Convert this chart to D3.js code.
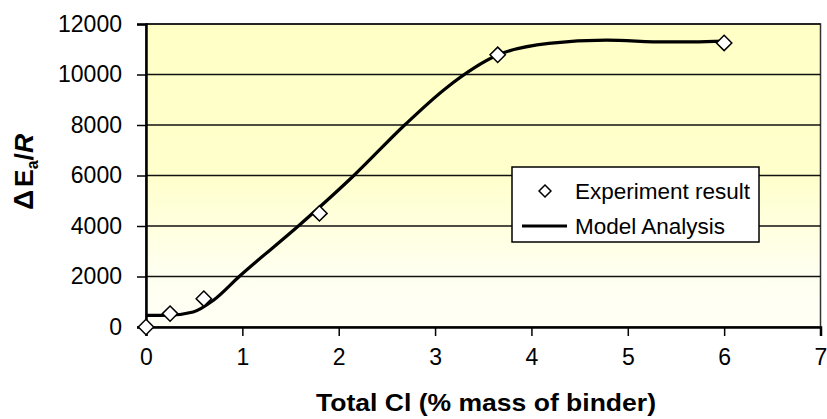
<!DOCTYPE html>
<html lang="en">
<head>
	<meta charset="UTF-8">
	<title>Activation energy vs total Cl</title>
	<script src="https://cdn.jsdelivr.net/npm/d3@7"></script>
	<style>
		html,body{margin:0;padding:0;background:#fff;}
		svg{display:block;font-family:"Liberation Sans",Arial,sans-serif;}
	</style>
</head>
<body>
	<div id="main"></div>
	<script>
		// experiment points
		var expX = [0, 0.25, 0.6, 1.8, 3.65, 6];
		var expY = [0, 530, 1120, 4500, 10780, 11250];
		// model curve
		var modelX = [0, 0.23, 0.49, 0.70, 0.97, 1.59, 2.16, 2.69, 3.11, 3.65, 4.18, 4.78, 5.39, 5.68, 6.0];
		var modelY = [460, 465, 595, 1060, 2010, 4030, 6010, 8020, 9450, 10770, 11230, 11360, 11290, 11290, 11320];
		var xTicks = [0, 1, 2, 3, 4, 5, 6, 7];
		var yTicks = [0, 2000, 4000, 6000, 8000, 10000, 12000];
		var legendLabels = ["Experiment result", "Model Analysis"];

		var W = 827, H = 419;
		var m = {left: 146, right: 6.5, top: 24, bottom: 92};
		var w = W - m.left - m.right, h = H - m.top - m.bottom;

		var svg = d3.select("#main").append("svg")
			.attr("width", W).attr("height", H);

		var x = d3.scaleLinear().domain([0, 7]).range([0, w]);
		var y = d3.scaleLinear().domain([0, 12000]).range([h, 0]);

		var defs = svg.append("defs");
		var grad = defs.append("linearGradient").attr("id", "bg")
			.attr("x1", 0).attr("y1", 0).attr("x2", 0).attr("y2", 1);
		grad.append("stop").attr("offset", "0%").attr("stop-color", "#ffffc6");
		grad.append("stop").attr("offset", "50%").attr("stop-color", "#ffffcc");
		grad.append("stop").attr("offset", "82%").attr("stop-color", "#fffff0");
		grad.append("stop").attr("offset", "100%").attr("stop-color", "#fffff6");

		var g = svg.append("g").attr("transform", "translate(" + m.left + "," + m.top + ")");

		g.append("rect").attr("width", w).attr("height", h)
			.attr("fill", "url(#bg)").attr("stroke", "#333").attr("stroke-width", 1.5);

		// gridlines
		g.selectAll(".grid").data(yTicks.slice(1)).enter().append("line")
			.attr("x1", 0).attr("x2", w)
			.attr("y1", d => y(d)).attr("y2", d => y(d))
			.attr("stroke", "#111").attr("stroke-width", 1.5);

		// axes
		var xAxis = g.append("g").attr("transform", "translate(0," + h + ")")
			.call(d3.axisBottom(x).tickValues(xTicks).tickSize(9).tickPadding(13).tickFormat(d3.format("d")));
		var yAxis = g.append("g")
			.call(d3.axisLeft(y).tickValues(yTicks).tickSize(9).tickPadding(15).tickFormat(d3.format("d")));
		[xAxis, yAxis].forEach(a => {
			a.select(".domain").attr("stroke", "#000").attr("stroke-width", 2.5);
			a.selectAll(".tick line").attr("stroke", "#000").attr("stroke-width", 1.5);
			a.selectAll(".tick text").attr("fill", "#000")
				.style("font-size", "23px").style("font-family", "Liberation Sans, Arial, sans-serif");
		});

		// model line
		var line = d3.line()
			.x(d => x(d[0])).y(d => y(d[1]))
			.curve(d3.curveMonotoneX);
		g.append("path").datum(d3.zip(modelX, modelY))
			.attr("d", line).attr("fill", "none")
			.attr("stroke", "#000").attr("stroke-width", 3.2);

		// experiment markers
		var diamond = d3.symbol().type(d3.symbolDiamond2).size(150);
		g.selectAll(".pt").data(d3.zip(expX, expY)).enter().append("path")
			.attr("d", diamond)
			.attr("transform", d => "translate(" + x(d[0]) + "," + y(d[1]) + ")")
			.attr("fill", "#fff").attr("stroke", "#000").attr("stroke-width", 1.5);

		// legend
		var lg = svg.append("g").attr("transform", "translate(512,167)");
		lg.append("rect").attr("width", 247).attr("height", 75)
			.attr("fill", "#fff").attr("stroke", "#000").attr("stroke-width", 1.5);
		lg.append("path").attr("d", d3.symbol().type(d3.symbolDiamond2).size(90))
			.attr("transform", "translate(33,24)")
			.attr("fill", "#fff").attr("stroke", "#000").attr("stroke-width", 1.5);
		lg.append("line").attr("x1", 10).attr("x2", 55).attr("y1", 59).attr("y2", 59)
			.attr("stroke", "#000").attr("stroke-width", 3.2);
		lg.selectAll(".lt").data(legendLabels).enter().append("text")
			.attr("x", 63).attr("y", (d, i) => 32 + i * 35)
			.style("font-size", "22.5px").text(d => d);

		// axis titles
		svg.append("text").attr("x", 486).attr("y", 411)
			.attr("text-anchor", "middle")
			.attr("textLength", 340).attr("lengthAdjust", "spacingAndGlyphs")
			.style("font-size", "24px").style("font-weight", "bold")
			.text("Total Cl (% mass of binder)");

		var yt = svg.append("text")
			.attr("transform", "translate(33,172) rotate(-90)")
			.attr("text-anchor", "middle")
			.style("font-size", "26.5px").style("font-weight", "bold");
		yt.append("tspan").style("font-size", "28px").text("\u0394");
		yt.append("tspan").attr("dx", 3).text("E");
		yt.append("tspan").attr("dy", 5).style("font-size", "16px").text("a");
		yt.append("tspan").attr("dy", -5).text("/");
		yt.append("tspan").style("font-style", "italic").text("R");
	</script>
</body>
</html>
